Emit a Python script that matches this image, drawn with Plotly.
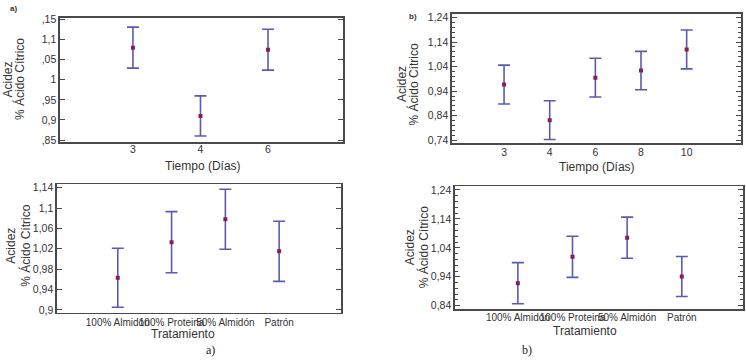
import plotly.graph_objects as go

W, H = 746, 361

# ---- data ----
tiempo_a = ["3", "4", "6"]
acidez_tiempo_a = [1.080, 0.910, 1.075]
err_tiempo_a = [0.051, 0.050, 0.051]

tiempo_b = ["3", "4", "6", "8", "10"]
acidez_tiempo_b = [0.967, 0.822, 0.995, 1.024, 1.110]
err_tiempo_b = [0.079, 0.079, 0.079, 0.078, 0.079]

tratamientos = ["100% Almidón", "100% Proteina", "50% Almidón", "Patrón"]
acidez_trat_a = [0.963, 1.033, 1.078, 1.015]
err_trat_a = [0.058, 0.060, 0.059, 0.059]
acidez_trat_b = [0.918, 1.009, 1.075, 0.941]
err_trat_b = [0.071, 0.071, 0.071, 0.069]

yticks_tl = [0.85, 0.90, 0.95, 1.00, 1.05, 1.10, 1.15]
yticktext_tl = [",85", "0,9", ",95", "1", ",05", "1,1", ",15"]
yticks_tr = [0.74, 0.84, 0.94, 1.04, 1.14, 1.24]
yticktext_tr = ["0,74", "0,84", "0,94", "1,04", "1,14", "1,24"]
yticks_bl = [0.90, 0.94, 0.98, 1.02, 1.06, 1.10, 1.14]
yticktext_bl = ["0,9", "0,94", "0,98", "1,02", "1,06", "1,1", "1,14"]
yticks_br = [0.84, 0.94, 1.04, 1.14, 1.24]
yticktext_br = ["0,84", "0,94", "1,04", "1,14", "1,24"]

# ---- style ----
BAR = "#5a5ab4"
MARK = "#8a1f4f"
LINE = "#4a4a4a"
TXT = "#333333"
FONT = "Liberation Sans, Arial, sans-serif"

def px_x(a, b):
    return [a / W, b / W]

def px_y(top, bottom):
    return [1 - bottom / H, 1 - top / H]

fig = go.Figure()

panels = [
    (tiempo_a, acidez_tiempo_a, err_tiempo_a, 1, (60, 343), (14, 141), [-1.08, 3.11], [0.8445, 1.1545], yticks_tl, yticktext_tl, None, 10.5, -3),
    (tiempo_b, acidez_tiempo_b, err_tiempo_b, 2, (452, 741), (10, 142), [-1.14, 5.19], [0.728, 1.255], yticks_tr, yticktext_tr, 0.02, 10.5, -1),
    (tratamientos, acidez_trat_a, err_trat_a, 3, (57, 341), (184, 315), [-1.13, 4.15], [0.894, 1.1465], yticks_bl, yticktext_bl, None, 10, 0),
    (tratamientos, acidez_trat_b, err_trat_b, 4, (455, 743), (186, 311), [-1.15, 4.12], [0.829, 1.252], yticks_br, yticktext_br, 0.02, 10, -2),
]

for cats, vals, errs, i, xd, yd, xr, yr, tv, tt, minor, xfs, sto in panels:
    sfx = "" if i == 1 else str(i)
    fig.add_trace(go.Scatter(
        x=cats, y=vals, mode="markers",
        marker=dict(symbol="square", size=4, color=MARK),
        error_y=dict(type="data", array=errs, visible=True, color=BAR, thickness=1.6, width=6),
        xaxis="x" + sfx, yaxis="y" + sfx, showlegend=False, hoverinfo="skip",
    ))
    xa = dict(domain=px_x(*xd), type="category", range=xr, anchor="y" + sfx,
              showline=True, mirror=True, linecolor=LINE, linewidth=1.6,
              showgrid=False, zeroline=False, ticks="", fixedrange=True,
              tickangle=0, ticklabelstandoff=sto,
              tickfont=dict(family=FONT, size=xfs, color=TXT))
    ya = dict(domain=px_y(*yd), range=yr, anchor="x" + sfx,
              showline=True, mirror="allticks", linecolor=LINE, linewidth=1.6,
              showgrid=False, zeroline=False, ticks="inside", ticklen=5, tickcolor=LINE,
              tickvals=tv, ticktext=tt, fixedrange=True,
              tickfont=dict(family=FONT, size=10.5, color=TXT))
    if minor:
        ya["minor"] = dict(ticks="inside", ticklen=3, dtick=minor, tickcolor=LINE, showgrid=False)
    fig.layout["xaxis" + sfx] = xa
    fig.layout["yaxis" + sfx] = ya

def ann(text, x, y, size=12, angle=0, family=FONT, color=TXT):
    fig.add_annotation(text=text, x=x / W, y=1 - y / H, xref="paper", yref="paper",
                       showarrow=False, textangle=angle, xanchor="center", yanchor="middle",
                       font=dict(family=family, size=size, color=color))

# y titles
for xa_, xb_, yc in [(8, 19.5, 77), (402.5, 413, 82), (11.5, 25.5, 247), (410, 423, 248)]:
    ann("Acidez", xa_, yc, angle=-90)
    ann("% Ácido Cítrico", xb_, yc, angle=-90)

# x titles
ann("Tiempo (Días)", 203, 165)
ann("Tiempo (Días)", 597, 166)
ann("Tratamiento", 183, 337)
ann("Tratamiento", 585, 333)

# panel labels
ann("<b>a)</b>", 13, 5, size=8)
ann("<b>b)</b>", 413, 13, size=8)
ann("a)", 210, 353, size=12, family="Liberation Serif, Times New Roman, serif", color="#222")
ann("b)", 527, 353, size=12, family="Liberation Serif, Times New Roman, serif", color="#222")

fig.update_layout(width=W, height=H, margin=dict(l=0, r=0, t=0, b=0),
                  paper_bgcolor="white", plot_bgcolor="white", hovermode=False)

fig.write_html("out.html", config={"displayModeBar": False, "staticPlot": True},
               post_script="document.body.style.margin='0';document.body.style.overflow='hidden';")
